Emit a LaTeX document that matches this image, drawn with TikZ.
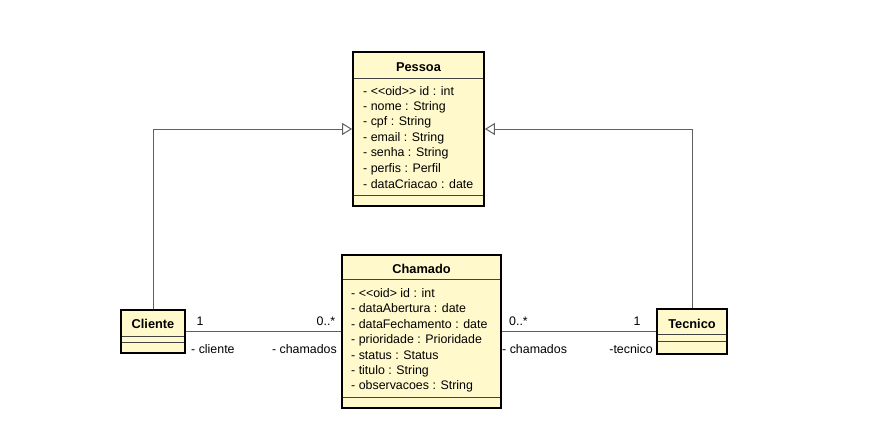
\documentclass[tikz,border=0pt]{standalone}
\usepackage{fontspec}
\setmainfont{Liberation Sans}
\usetikzlibrary{arrows.meta}
\definecolor{umlfill}{RGB}{255,249,204}
\definecolor{umlline}{RGB}{96,96,96}
\tikzset{
  classbox/.style={draw=black, line width=1.8pt, fill=umlfill, inner sep=0pt},
  sepline/.style={draw=umlline!70!black, line width=1pt},
  title/.style={font=\fontsize{12.8}{14}\selectfont\bfseries, inner sep=0pt},
  attr/.style={font=\fontsize{12.4}{14}\selectfont, anchor=west, inner sep=0pt},
  lbl/.style={font=\fontsize{12.4}{14}\selectfont, inner sep=0pt},
  conn/.style={draw=umlline, line width=1pt},
  gen/.style={conn, -{Triangle[open, length=10pt, width=12pt, fill=white]}}
}
\begin{document}
\begin{tikzpicture}[x=1pt,y=-1pt]
\useasboundingbox (0,0) rectangle (878,439);
\fill[white] (0,0) rectangle (878,439);
% Pessoa
\node[classbox, minimum width=131pt, minimum height=154pt] (pessoa) at (418.5,129) {};
\draw[sepline] (354,78) -- (483,78);
\draw[sepline] (354,195) -- (483,195);
\node[title] (pt) at (418.5,67) {Pessoa};
\node[attr] (p1) at (363,91.5) {- {<}{<}oid{>}{>} id : int};
\node[attr] (p2) at (363,107) {- nome : String};
\node[attr] (p3) at (363,122.5) {- cpf : String};
\node[attr] (p4) at (363,138) {- email : String};
\node[attr] (p5) at (363,153.5) {- senha : String};
\node[attr] (p6) at (363,169) {- perfis : Perfil};
\node[attr] (p7) at (363,184.5) {- dataCriacao : date};
% Chamado
\node[classbox, minimum width=159pt, minimum height=153pt] (chamado) at (421.5,331.5) {};
\draw[sepline] (343,279) -- (500,279);
\draw[sepline] (343,397) -- (500,397);
\node[title] (ct) at (421.5,269) {Chamado};
\node[attr] (c1) at (351,293) {- {<}{<}oid{>} id : int};
\node[attr] (c2) at (351,308.5) {- dataAbertura : date};
\node[attr] (c3) at (351,324) {- dataFechamento : date};
\node[attr] (c4) at (351,340) {- prioridade : Prioridade};
\node[attr] (c5) at (351,355.5) {- status : Status};
\node[attr] (c6) at (351,371) {- titulo : String};
\node[attr] (c7) at (351,386.5) {- observacoes : String};
% Cliente
\node[classbox, minimum width=64pt, minimum height=43pt] (cliente) at (153,331.5) {};
\draw[sepline] (122,336) -- (184,336);
\draw[sepline] (122,342.5) -- (184,342.5);
\node[title] (clt) at (153,324) {Cliente};
% Tecnico
\node[classbox, minimum width=70pt, minimum height=45pt] (tecnico) at (692,331.5) {};
\draw[sepline] (658,334) -- (726,334);
\draw[sepline] (658,341.5) -- (726,341.5);
\node[title] (tt) at (692,324) {Tecnico};
% generalizations
\draw[gen] (cliente.north) |- (pessoa.west);
\draw[gen] (tecnico.north) |- (pessoa.east);
% associations
\draw[conn] (cliente.east) -- (chamado.west);
\draw[conn] (chamado.east) -- (tecnico.west);
\node[lbl] (m1) at (200,321) {1};
\node[lbl, anchor=east] (m2) at (335.5,321) {0..*};
\node[lbl, anchor=west] (r1) at (191,349) {- cliente};
\node[lbl, anchor=east] (r2) at (337,349) {- chamados};
\node[lbl, anchor=west] (m3) at (509,321) {0..*};
\node[lbl] (m4) at (637,321) {1};
\node[lbl, anchor=west] (r3) at (502,349) {- chamados};
\node[lbl, anchor=east] (r4) at (653,349) {-tecnico};
\end{tikzpicture}
\end{document}
